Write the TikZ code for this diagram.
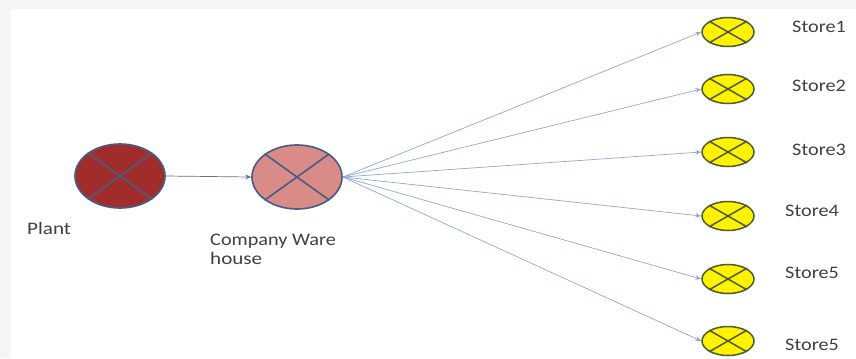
\documentclass[tikz,border=0pt]{standalone}
\usepackage{fontspec}
\setmainfont{Carlito}
\usetikzlibrary{shapes.geometric,arrows.meta}

\definecolor{plantred}{HTML}{A02C2C}
\definecolor{warepink}{HTML}{D98B88}
\definecolor{siteline}{HTML}{4A5C86}
\definecolor{storeline}{HTML}{4F5A30}
\definecolor{flowblue}{HTML}{8FAAD0}

\tikzset{
  site/.style={ellipse, draw=siteline, line width=1.4pt, inner sep=0pt,
    minimum width=2.7cm, minimum height=1.92cm},
  store/.style={ellipse, draw=storeline, fill=yellow, line width=1.3pt,
    inner sep=0pt, minimum width=1.56cm, minimum height=0.87cm},
  lbl/.style={font=\fontsize{15}{18}\selectfont, text=black!75, inner sep=0pt},
  flow/.style={draw=flowblue, line width=0.6pt, -{Stealth[length=5pt,width=4pt]}}
}

\begin{document}
\begin{tikzpicture}[x=0.03cm, y=-0.03cm]
  \useasboundingbox (0,0) rectangle (856,358);
  \fill[black!4] (0,0) rectangle (856,358);
  \fill[white] (11,9) rectangle (856,358);
  % plant and warehouse
  \node[site, fill=plantred] (plant) at (120,176) {};
  \node[site, fill=warepink] (ware) at (297,177) {};
  \draw[siteline, line width=1.4pt] (plant.north east) -- (plant.south west)
    (plant.north west) -- (plant.south east);
  \draw[siteline, line width=1.4pt] (ware.north east) -- (ware.south west)
    (ware.north west) -- (ware.south east);
  \node[lbl, anchor=base west] (plantlbl) at (27,234) {\scalebox{1.2}[1]{Plant}};
  \node[lbl, anchor=base west, align=left] (warelbl) at (210,264)
    {\scalebox{1.15}[1]{Company Ware}\\[-2.5pt]\scalebox{1.2}[1]{house}};
  % stores
  \node[store] (s1) at (728,32) {};
  \node[store] (s2) at (728,89) {};
  \node[store] (s3) at (728,152) {};
  \node[store] (s4) at (728,216) {};
  \node[store] (s5) at (728,279) {};
  \node[store] (s6) at (728,341) {};
  \foreach \s in {s1,s2,s3,s4,s5,s6}
    \draw[storeline, line width=1.3pt] (\s.north east) -- (\s.south west)
      (\s.north west) -- (\s.south east);
  \node[lbl, anchor=base west] (l1) at (792,32) {\scalebox{1.15}[1]{Store1}};
  \node[lbl, anchor=base west] (l2) at (792,91) {\scalebox{1.15}[1]{Store2}};
  \node[lbl, anchor=base west] (l3) at (792,155) {\scalebox{1.15}[1]{Store3}};
  \node[lbl, anchor=base west] (l4) at (785,216) {\scalebox{1.15}[1]{Store4}};
  \node[lbl, anchor=base west] (l5) at (785,278) {\scalebox{1.15}[1]{Store5}};
  \node[lbl, anchor=base west] (l6) at (785,350) {\scalebox{1.15}[1]{Store5}};
  % flows
  \draw[flow, draw=siteline!70!flowblue] (plant.east) -- (ware.west);
  \draw[flow] (ware.east) -- (s1.west);
  \draw[flow] (ware.east) -- (s2.west);
  \draw[flow] (ware.east) -- (s3.west);
  \draw[flow] (ware.east) -- (s4.west);
  \draw[flow] (ware.east) -- (s5.west);
  \draw[flow] (ware.east) -- (s6.west);
\end{tikzpicture}
\end{document}
